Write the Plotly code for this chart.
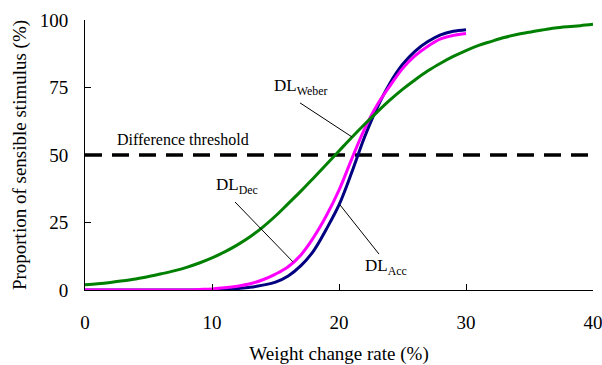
import plotly.graph_objects as go

# Weight change rate (%)
x_weber = list(range(0, 41))
y_weber = [1.9, 2.3, 2.8, 3.4, 4.1, 5.0, 6.0, 7.1, 8.4, 10.0, 11.9, 14.1, 16.7, 19.7,
           23.3, 27.4, 32.0, 36.6, 41.5, 46.5, 51.5, 56.5, 61.3, 65.9, 70.3, 74.3,
           77.9, 81.2, 84.0, 86.5, 88.7, 90.6, 92.1, 93.5, 94.6, 95.5, 96.3, 97.0,
           97.5, 97.9, 98.4]

x_acc = list(range(0, 31))
y_acc = [0, 0, 0, 0, 0, 0, 0, 0, 0, 0, 0.1, 0.3, 0.6, 1.0, 1.8, 2.9, 5.2, 9.0,
         14.5, 22.5, 31.5, 43.5, 56.5, 67.5, 76.5, 83.5, 88.5, 92.0, 94.5, 95.8, 96.4]

x_dec = list(range(0, 31))
y_dec = [0, 0, 0, 0, 0, 0, 0, 0, 0, 0.2, 0.4, 0.8, 1.4, 2.3, 3.8, 5.9, 8.6, 13.0,
         19.5, 27.5, 37.0, 48.5, 59.5, 68.5, 75.5, 82.0, 86.8, 90.3, 93.0, 94.3, 95.0]

threshold_x = [0, 40]
threshold_y = [50, 50]

x_ticks = [0, 10, 20, 30, 40]
y_ticks = [0, 25, 50, 75, 100]

FONT = "Liberation Serif, Times New Roman, serif"

fig = go.Figure()
fig.add_trace(go.Scatter(x=threshold_x, y=threshold_y, mode="lines",
                         line=dict(color="black", width=3.5, dash="17px,10px"),
                         hoverinfo="skip"))
fig.add_trace(go.Scatter(x=x_acc, y=y_acc, mode="lines", line_shape="spline",
                         line=dict(color="#000080", width=3)))
fig.add_trace(go.Scatter(x=x_dec, y=y_dec, mode="lines", line_shape="spline",
                         line=dict(color="#FF00FF", width=3)))
fig.add_trace(go.Scatter(x=x_weber, y=y_weber, mode="lines", line_shape="spline",
                         line=dict(color="#008000", width=3)))

# leader lines
leaders = [
    (16.93, 69.3, 21.02, 56.7),
    (11.81, 32.6, 16.38, 10.4),
    (20.08, 31.5, 23.15, 13.3),
]
for x0, y0, x1, y1 in leaders:
    fig.add_shape(type="line", xref="x", yref="y", x0=x0, y0=y0, x1=x1, y1=y1,
                  line=dict(color="black", width=1))

labels = [
    ("Difference threshold", 2.36, 55.9, 16),
    ("DL<sub>Weber</sub>", 14.72, 75.2, 17),
    ("DL<sub>Dec</sub>", 10.16, 38.5, 17),
    ("DL<sub>Acc</sub>", 21.9, 8.5, 17),
]
for txt, x, y, sz in labels:
    fig.add_annotation(x=x, y=y, xref="x", yref="y", text=txt, showarrow=False,
                       xanchor="left", yanchor="middle",
                       font=dict(family=FONT, size=sz, color="black"))

fig.update_layout(
    width=602, height=365,
    margin=dict(l=85, r=9, t=20, b=75),
    paper_bgcolor="white", plot_bgcolor="white",
    showlegend=False,
    font=dict(family=FONT, size=19, color="black"),
)
fig.update_xaxes(range=[0, 40], tickvals=x_ticks, ticktext=[str(v) for v in x_ticks],
                 ticks="inside", ticklen=6, ticklabeloverflow="allow", automargin=False,
                 tickcolor="black", showline=True, linecolor="black", linewidth=1,
                 showgrid=False, zeroline=False, ticklabelstandoff=15,
                 title=dict(text="Weight change rate (%)", standoff=14,
                            font=dict(family=FONT, size=19)))
fig.update_yaxes(range=[0, 100], tickvals=y_ticks, ticks="inside", ticklen=6,
                 automargin=False,
                 tickcolor="black", showline=True, linecolor="black", linewidth=1,
                 showgrid=False, zeroline=False, ticklabelstandoff=12,
                 title=dict(text="Proportion of sensible stimulus (%)", standoff=8,
                            font=dict(family=FONT, size=19)))

fig.write_html("out.html")
